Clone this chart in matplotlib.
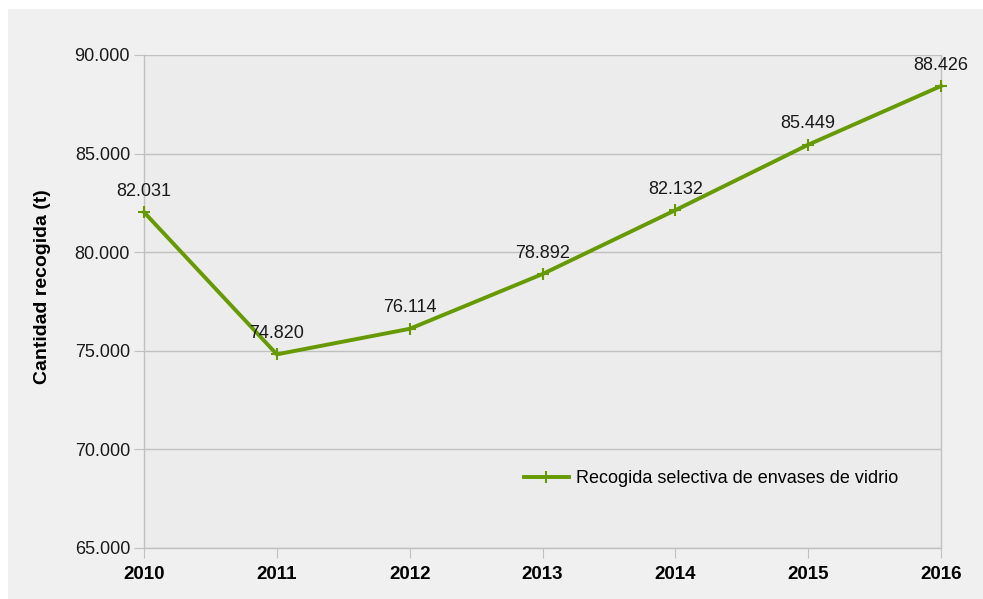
import matplotlib
matplotlib.use("Agg")
import matplotlib.pyplot as plt
from matplotlib.patches import Rectangle
from matplotlib.ticker import FuncFormatter

years = ["2010", "2011", "2012", "2013", "2014", "2015", "2016"]
values = [82031, 74820, 76114, 78892, 82132, 85449, 88426]
value_labels = ["82.031", "74.820", "76.114", "78.892", "82.132", "85.449", "88.426"]
series_name = "Recogida selectiva de envases de vidrio"
y_label = "Cantidad recogida (t)"

green = "#669a00"
grid_c = "#c0c0c0"

plt.rcParams['font.family'] = ['Liberation Sans', 'DejaVu Sans']

fig = plt.figure(figsize=(9.83, 5.99), dpi=100)
fig.patch.set_facecolor("white")
bg = Rectangle((8 / 983, -0.05), 1.05, 1 - 9 / 599 + 0.05,
               transform=fig.transFigure, facecolor="#f0f0f0",
               edgecolor="none", zorder=-10)
fig.add_artist(bg)

ax = fig.add_axes([144 / 983, 1 - 548 / 599, (941 - 144) / 983, (548 - 55) / 599])
ax.set_zorder(1)
ax.set_facecolor("#ececec")

x = list(range(len(years)))
ax.plot(x, values, color=green, lw=2.8, marker="+", ms=9, mew=1.5,
        label=series_name, zorder=3, clip_on=False)

for xi, v, lab in zip(x, values, value_labels):
    ax.annotate(lab, (xi, v), xytext=(0, 9), textcoords="offset points",
                ha="center", va="bottom", fontsize=13, color="#1a1a1a", zorder=4)

ax.set_xlim(0, len(years) - 1)
ax.set_ylim(65000, 90000)
ax.set_yticks(range(65000, 90001, 5000))
ax.yaxis.set_major_formatter(FuncFormatter(lambda v, p: f"{int(v):,}".replace(",", ".")))
ax.set_xticks(x)
ax.set_xticklabels(years, fontweight="bold", fontsize=13.5)
ax.tick_params(axis="y", length=7, color=grid_c, labelsize=13, labelcolor="#1a1a1a", pad=3)
ax.tick_params(axis="x", length=7, color=grid_c, pad=6)

ax.grid(axis="y", color=grid_c, lw=1)
ax.set_axisbelow(True)
for s in ["top"]:
    ax.spines[s].set_visible(False)
for s in ["left", "right", "bottom"]:
    ax.spines[s].set_color(grid_c)
    ax.spines[s].set_linewidth(1)

ax.set_ylabel(y_label, fontweight="bold", fontsize=14)
ax.yaxis.set_label_coords(-0.117, 0.53)

leg = ax.legend(loc="lower left", bbox_to_anchor=(0.456, 0.09), frameon=False,
                fontsize=13, handlelength=2.5, handletextpad=0.4)

fig.savefig("out.png", dpi=100, facecolor=fig.get_facecolor())
